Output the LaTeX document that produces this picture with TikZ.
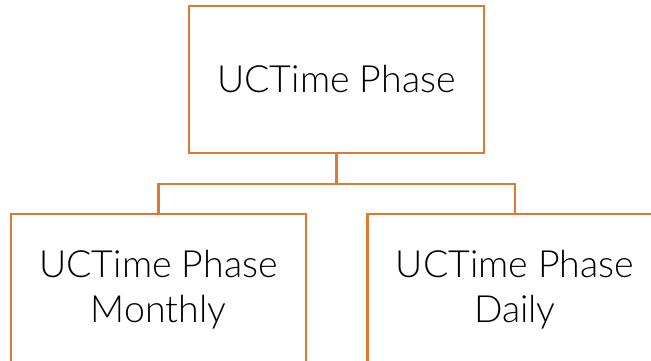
\documentclass[tikz,border=0pt]{standalone}
\usepackage{fontspec}
\setmainfont{Lato Light}
\definecolor{boxorange}{RGB}{222,120,50}
\tikzset{
  box/.style={draw=boxorange, line width=2.4pt, fill=white, minimum width=295pt, minimum height=147pt, inner sep=0pt, align=center, font=\fontsize{37.5}{45}\selectfont},
  lowbox/.style={box, minimum height=151pt},
  link/.style={draw=boxorange, line width=2.4pt}
}
\begin{document}
\begin{tikzpicture}[x=1pt,y=-1pt]
\useasboundingbox (0,0) rectangle (651,361);
\node[box] (top) at (336.5,79.5) {UCTime Phase};
\node[lowbox] (left) at (158.5,289.5) {UCTime Phase\\Monthly};
\node[lowbox] (right) at (515,289.5) {UCTime Phase\\Daily};
\coordinate (mid) at (336.5,184);
\draw[link] (top.south) -- (mid);
\draw[link] (left.north) |- (mid) -| (right.north);
\end{tikzpicture}
\end{document}
